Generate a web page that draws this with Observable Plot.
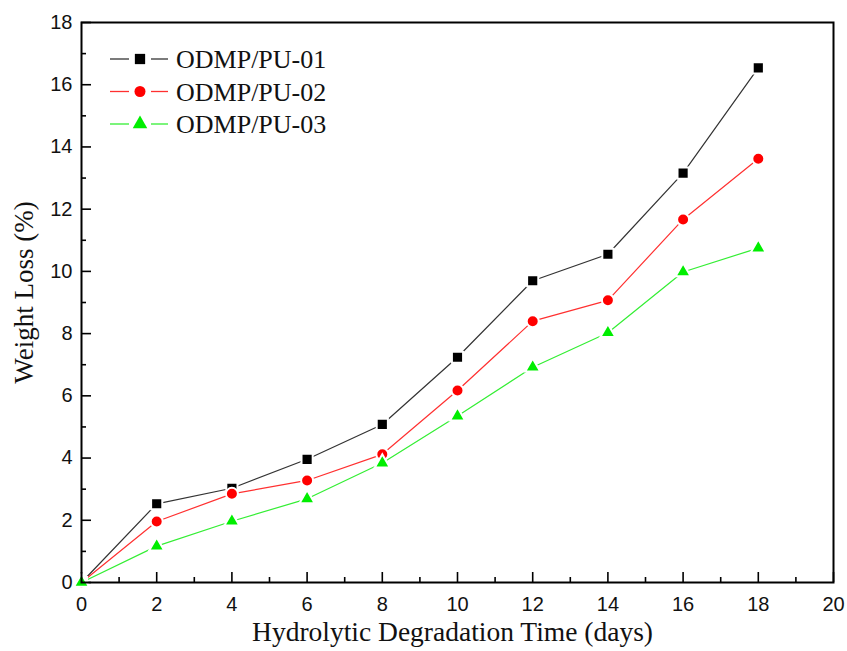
<!DOCTYPE html>
<html>
<head>
<meta charset="utf-8">
<script src="https://cdn.jsdelivr.net/npm/d3@7"></script>
<script src="https://cdn.jsdelivr.net/npm/@observablehq/plot@0.6"></script>
<style>
  html, body { margin: 0; padding: 0; background: #fff; }
  #wrap { position: relative; width: 847px; height: 651px; }
  #legend { position: absolute; left: 0; top: 0; pointer-events: none; }
</style>
</head>
<body>
<div id="wrap"></div>
<script>
// ---- Data ----
const days = [0, 2, 4, 6, 8, 10, 12, 14, 16, 18];
const pu01 = [0, 2.53, 3.03, 3.96, 5.08, 7.24, 9.70, 10.55, 13.16, 16.54];
const pu02 = [0, 1.96, 2.85, 3.28, 4.12, 6.17, 8.40, 9.07, 11.67, 13.62];
const pu03 = [0, 1.17, 1.97, 2.69, 3.84, 5.35, 6.92, 8.03, 9.98, 10.75];
const seriesNames = ["ODMP/PU-01", "ODMP/PU-02", "ODMP/PU-03"];
const seriesValues = [pu01, pu02, pu03];
const xTicks = [0, 2, 4, 6, 8, 10, 12, 14, 16, 18, 20];
const xMinor = [1, 3, 5, 7, 9, 11, 13, 15, 17, 19];
const yTicks = [0, 2, 4, 6, 8, 10, 12, 14, 16, 18];
const yMinor = [1, 3, 5, 7, 9, 11, 13, 15, 17];
const xTitle = "Hydrolytic Degradation Time (days)";
const yTitle = "Weight Loss (%)";

// ---- Styles ----
const markerColors = ["#000000", "#ff0000", "#00ee00"];
const lineColors = ["#333333", "#ff3030", "#33ee33"];
const symbols = ["square", "circle", "triangle"];
const symbolR = [6.3, 6.0, 5.6];

const rows = [];
seriesNames.forEach((s, i) => days.forEach((d, j) => rows.push({day: d, value: seriesValues[i][j], series: s, k: i})));

const W = 847, H = 651, mL = 81, mR = 14, mT = 22, mB = 69;
const plotW = W - mL - mR, plotH = H - mT - mB;

const marks = [
  Plot.axisX({ticks: xTicks, tickSize: 0, tickPadding: 14, fontSize: 20, fontFamily: "Liberation Sans", fill: "#111", label: null}),
  Plot.axisY({ticks: yTicks, tickSize: 0, tickPadding: 9, fontSize: 20, fontFamily: "Liberation Sans", fill: "#111", label: null}),
  Plot.tickX(xTicks, {x: d => d, insetTop: plotH - 10, stroke: "#000", strokeWidth: 1.6}),
  Plot.tickX(xMinor, {x: d => d, insetTop: plotH - 5, stroke: "#000", strokeWidth: 1.6}),
  Plot.tickY(yTicks, {y: d => d, insetRight: plotW - 10, stroke: "#000", strokeWidth: 1.6}),
  Plot.tickY(yMinor, {y: d => d, insetRight: plotW - 5, stroke: "#000", strokeWidth: 1.6}),
  Plot.text([xTitle], {frameAnchor: "bottom", lineAnchor: "bottom", dy: 58, dx: -5, fontFamily: "Liberation Serif", fontSize: 27.5, fill: "#111"}),
  Plot.text([yTitle], {frameAnchor: "left", textAnchor: "middle", rotate: -90, dx: -57, dy: -10, fontFamily: "Liberation Serif", fontSize: 27, fill: "#111"})
];
seriesNames.forEach((s, i) => {
  const data = rows.filter(r => r.k === i);
  marks.push(Plot.line(data, {x: "day", y: "value", stroke: lineColors[i], strokeWidth: 1.2}));
});
seriesNames.forEach((s, i) => {
  const data = rows.filter(r => r.k === i);
  marks.push(Plot.dot(data, {x: "day", y: "value", symbol: symbols[i], r: symbolR[i], fill: markerColors[i], stroke: "#fff", strokeWidth: 2}));
});
marks.push(Plot.frame({stroke: "#000", strokeWidth: 2}));

const chart = Plot.plot({
  width: W, height: H,
  marginLeft: mL, marginRight: mR, marginTop: mT, marginBottom: mB,
  x: {domain: [0, 20]},
  y: {domain: [0, 18]},
  style: {background: "#fff", fontFamily: "Liberation Sans"},
  marks
});
const wrap = document.getElementById("wrap");
wrap.appendChild(chart);

// ---- Legend (overlay) ----
const leg = d3.select(wrap).append("svg").attr("id", "legend").attr("width", W).attr("height", H);
const symMap = {square: d3.symbolSquare, circle: d3.symbolCircle, triangle: d3.symbolTriangle};
const legR = [5.8, 5.5, 5.4];
seriesNames.forEach((s, i) => {
  const y0 = 59 + i * 32.5;
  const g = leg.append("g");
  g.append("line").attr("x1", 110).attr("x2", 129).attr("y1", y0).attr("y2", y0).attr("stroke", lineColors[i]).attr("stroke-width", 1.3);
  g.append("line").attr("x1", 151).attr("x2", 168).attr("y1", y0).attr("y2", y0).attr("stroke", lineColors[i]).attr("stroke-width", 1.3);
  g.append("path").attr("transform", `translate(140,${y0})`)
    .attr("d", d3.symbol(symMap[symbols[i]], legR[i] * legR[i] * Math.PI)())
    .attr("fill", markerColors[i]);
  g.append("text").attr("x", 176).attr("y", y0).attr("dy", "0.36em")
    .attr("font-family", "Liberation Serif").attr("font-size", 26).attr("fill", "#111").text(s);
});
</script>
</body>
</html>
